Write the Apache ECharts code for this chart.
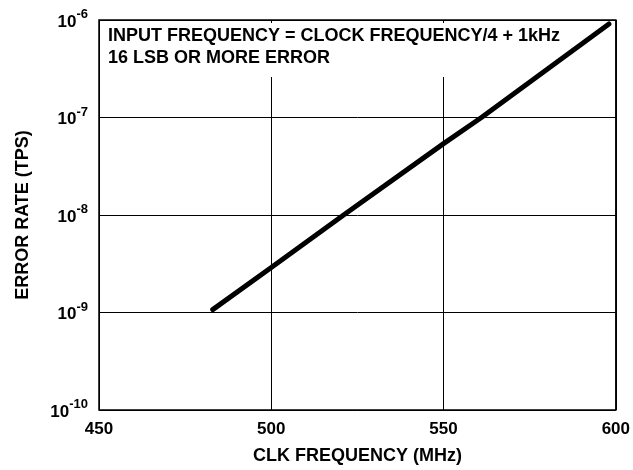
<!DOCTYPE html>
<html>
<head>
<meta charset="utf-8">
<script src="https://cdn.jsdelivr.net/npm/echarts@6/dist/echarts.min.js"></script>
<style>
  html, body { margin: 0; padding: 0; background: #fff; }
  #chart { width: 633px; height: 470px; }
</style>
</head>
<body>
<div id="chart"></div>
<script>
// clock frequency (MHz) vs error rate (TPS)
const clkFreq = [483, 500, 521, 550, 561, 598];
const errorRate = [1.07e-9, 2.9e-9, 1.0e-8, 5.4e-8, 1.0e-7, 9.1e-7];
const xTicks = [450, 500, 550, 600];
const noteLines = ['INPUT FREQUENCY = CLOCK FREQUENCY/4 + 1kHz', '16 LSB OR MORE ERROR'];

const font = 'Liberation Sans, Arial, sans-serif';
const chart = echarts.init(document.getElementById('chart'), null, { renderer: 'canvas' });

const expFor = (v) => String(Math.round(Math.log10(v)));

const option = {
    animation: false,
    backgroundColor: '#fff',
    grid: {
        left: 99,
        right: 16,
        top: 20,
        bottom: 60,
        show: true,
        borderColor: '#000',
        borderWidth: 1.5,
        backgroundColor: 'transparent',
    },
    xAxis: {
        type: 'value',
        min: 450,
        max: 600,
        interval: 50,
        name: 'CLK FREQUENCY (MHz)',
        nameLocation: 'middle',
        nameGap: 37,
        nameTextStyle: { fontFamily: font, fontWeight: 'bold', fontSize: 18, color: '#000' },
        axisLine: { show: false },
        axisTick: { show: false },
        axisLabel: {
            margin: 11,
            fontFamily: font,
            fontWeight: 'bold',
            fontSize: 17,
            color: '#000',
            formatter: (v) => (xTicks.includes(v) ? String(v) : ''),
        },
        splitLine: { show: true, lineStyle: { color: '#000', width: 1 } },
    },
    yAxis: {
        type: 'log',
        logBase: 10,
        min: 1e-10,
        max: 1e-6,
        name: 'ERROR RATE (TPS)',
        nameLocation: 'middle',
        nameGap: 67,
        nameTextStyle: { fontFamily: font, fontWeight: 'bold', fontSize: 18, color: '#000' },
        axisLine: { show: false },
        axisTick: { show: false },
        axisLabel: {
            margin: 11,
            formatter: (v) => '{b|10}{s|' + expFor(v) + '}',
            rich: {
                b: { fontFamily: font, fontWeight: 'bold', fontSize: 17, color: '#000', padding: [4, 0, 0, 0] },
                s: { fontFamily: font, fontWeight: 'bold', fontSize: 13, color: '#000', padding: [0, 0, 11, 0] },
            },
        },
        splitLine: { show: true, lineStyle: { color: '#000', width: 1 } },
    },
    graphic: [
        {
            type: 'rect',
            left: 101,
            top: 23,
            shape: { width: 464, height: 54 },
            style: { fill: '#fff' },
            z: 50,
        },
        {
            type: 'text',
            left: 108,
            top: 25,
            style: {
                text: noteLines.join('\n'),
                font: 'bold 18px ' + font,
                lineHeight: 22,
                fill: '#000',
            },
            z: 51,
        },
    ],
    series: [
        {
            type: 'line',
            data: clkFreq.map((f, i) => [f, errorRate[i]]),
            showSymbol: false,
            lineStyle: { color: '#000', width: 5, cap: 'round' },
            z: 60,
        },
    ],
};

chart.setOption(option);
</script>
</body>
</html>
